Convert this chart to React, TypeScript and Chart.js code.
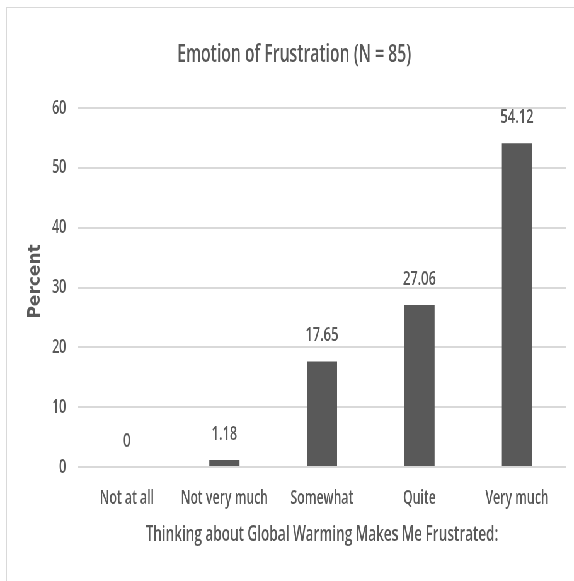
import React, { useEffect, useRef } from "react";
import { Chart, registerables } from "chart.js";

Chart.register(...registerables);

const categories = ["Not at all", "Not very much", "Somewhat", "Quite", "Very much"];
const percents = [0, 1.18, 17.65, 27.06, 54.12];
const valueLabels = ["0", "1.18", "17.65", "27.06", "54.12"];
const yTicks = [0, 10, 20, 30, 40, 50, 60];
const yAxisTitle = "Percent";

const TEXT = "#595959";
const FONT = "'Open Sans', Lato, sans-serif";
const SQUEEZE = 0.63; // horizontal condensing of the whole chart (narrow Calibri look)
const W = 574;
const H = 581;
const VW = Math.round(W / SQUEEZE);
const v = (px: number) => Math.round(px / SQUEEZE);

const valueLabelPlugin = {
  id: "valueLabels",
  afterDatasetsDraw(chart: any) {
    const ctx = chart.ctx;
    const meta = chart.getDatasetMeta(0);
    ctx.save();
    ctx.fillStyle = TEXT;
    ctx.font = `600 20.5px ${FONT}`;
    ctx.textAlign = "center";
    ctx.textBaseline = "middle";
    meta.data.forEach((bar: any, i: number) => {
      ctx.fillText(valueLabels[i], bar.x, bar.y - 26);
    });
    ctx.restore();
  },
};

// y-axis title drawn unsqueezed (it is set in a wide font in the reference)
const yTitlePlugin = {
  id: "yTitle",
  afterDraw(chart: any) {
    const ctx = chart.ctx;
    const area = chart.chartArea;
    ctx.save();
    ctx.fillStyle = TEXT;
    ctx.font = `bold 17px 'DejaVu Sans', sans-serif`;
    ctx.textAlign = "center";
    ctx.textBaseline = "middle";
    ctx.translate(v(35), (area.top + area.bottom) / 2 - 6);
    ctx.scale(1 / SQUEEZE, 1);
    ctx.rotate(-Math.PI / 2);
    ctx.fillText(yAxisTitle, 0, 0);
    ctx.restore();
  },
};

export default function App() {
  const ref = useRef<HTMLCanvasElement | null>(null);
  useEffect(() => {
    if (!ref.current) return;
    const padRight = VW - v(566);
    const padLeft = 2 * v(294) - (VW - padRight);
    const chart = new Chart(ref.current, {
      type: "bar",
      data: {
        labels: categories,
        datasets: [
          {
            data: percents,
            backgroundColor: "#595959",
            borderWidth: 0,
            categoryPercentage: 1,
            barPercentage: 0.31,
          },
        ],
      },
      options: {
        responsive: false,
        animation: false,
        layout: { padding: { top: 0, right: padRight, bottom: 0, left: padLeft } },
        plugins: {
          legend: { display: false },
          tooltip: { enabled: false },
          title: {
            display: true,
            text: "Emotion of Frustration (N = 85)",
            color: TEXT,
            font: { family: FONT, size: 25, weight: "600" as any },
            padding: { top: 40, bottom: 38 },
          },
        },
        scales: {
          x: {
            afterFit(scale: any) {
              scale.height = H - 467;
            },
            grid: { display: false, drawTicks: false },
            border: { display: false },
            ticks: {
              color: TEXT,
              font: { family: FONT, size: 19.5, weight: "600" as any },
              padding: 20,
              maxRotation: 0,
              autoSkip: false,
            },
            title: {
              display: true,
              text: "Thinking about Global Warming Makes Me Frustrated:",
              color: TEXT,
              font: { family: FONT, size: 21.5, weight: "600" as any },
              padding: { top: 0, bottom: 33 },
            },
          },
          y: {
            min: 0,
            max: 60,
            afterBuildTicks(scale: any) {
              scale.ticks = yTicks.map((t) => ({ value: t }));
            },
            afterFit(scale: any) {
              scale.width = v(78) - padLeft;
            },
            grid: { color: "#d9d9d9", lineWidth: 2, drawTicks: false },
            border: { display: false },
            ticks: {
              color: TEXT,
              font: { family: FONT, size: 19.5, weight: "600" as any },
              padding: v(12),
            },
          },
        },
      },
      plugins: [valueLabelPlugin, yTitlePlugin],
    });
    return () => chart.destroy();
  }, []);

  return (
    <div>
      <div
        style={{
          position: "fixed",
          left: 0,
          top: 0,
          width: VW,
          height: H,
          background: "#fff",
          transform: `scaleX(${SQUEEZE})`,
          transformOrigin: "0 0",
        }}
      >
        <canvas ref={ref} width={VW} height={H} />
      </div>
      <div
        style={{
          position: "fixed",
          left: 6,
          top: 7,
          width: 700,
          height: 700,
          border: "1px solid #d9d9d9",
          pointerEvents: "none",
        }}
      />
    </div>
  );
}
